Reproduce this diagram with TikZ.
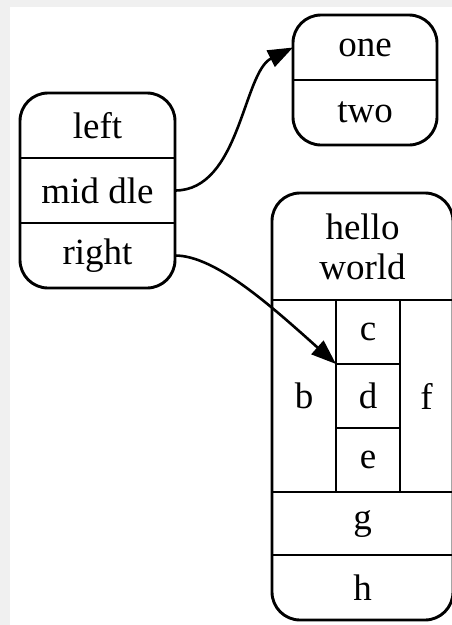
\documentclass[tikz,border=0pt]{standalone}
\usepackage{fontspec}
\setmainfont{Liberation Serif}
\usetikzlibrary{arrows.meta, fit}
\tikzset
{
field/.style={inner sep=0pt, outer sep=0pt, align=center, font=\fontsize{37}{40}\selectfont},
record/.style={draw, line width=2.9pt, rounded corners=28pt, inner sep=0pt, outer sep=0pt},
divider/.style={line width=2.9pt},
link/.style={line width=2.6pt, -{Triangle[length=25pt, width=18pt]}}
}
\begin{document}
\begin{tikzpicture}[x=1pt, y=-1pt]
		\useasboundingbox (0,0) rectangle (452,625);
		\fill[black!6] (0,0) rectangle (452,625);
		\fill[white] (10,7) rectangle (460,630);

		% record with three stacked fields
		\node[field, minimum width=155pt, minimum height=65pt] (left) at (97.5,125.5) {left};
		\node[field, minimum width=155pt, minimum height=65pt] (middle) at (97.5,190.5) {mid dle};
		\node[field, minimum width=155pt, minimum height=65pt] (right) at (97.5,255.5) {right};
		\node[record, fit=(left)(right)] (lrec) {};
		\draw[divider] (left.south west) -- (left.south east);
		\draw[divider] (middle.south west) -- (middle.south east);

		% record with two fields
		\node[field, minimum width=144pt, minimum height=65pt] (one) at (365,47.5) {one};
		\node[field, minimum width=144pt, minimum height=65pt] (two) at (365,112.5) {two};
		\node[record, fit=(one)(two)] (trec) {};
		\draw[divider] (one.south west) -- (one.south east);

		% nested record
		\node[field, minimum width=181pt, minimum height=107pt] (hello) at (362.5,246.5) {hello\\world};
		\node[field, minimum width=64pt, minimum height=192pt] (b) at (304,396) {b};
		\node[field, minimum width=64pt, minimum height=64pt] (c) at (368,332) {c};
		\node[field, minimum width=64pt, minimum height=64pt] (d) at (368,396) {d};
		\node[field, minimum width=64pt, minimum height=64pt] (e) at (368,460) {e};
		\node[field, minimum width=53pt, minimum height=192pt] (f) at (426.5,396) {f};
		\node[field, minimum width=181pt, minimum height=63pt] (g) at (362.5,523.5) {g};
		\node[field, minimum width=181pt, minimum height=65pt] (h) at (362.5,587.5) {h};
		\node[record, fit=(hello)(h)] (rrec) {};
		\draw[divider] (hello.south west) -- (hello.south east);
		\draw[divider] (b.north east) -- (b.south east);
		\draw[divider] (f.north west) -- (f.south west);
		\draw[divider] (c.south west) -- (c.south east);
		\draw[divider] (d.south west) -- (d.south east);
		\draw[divider] (g.north west) -- (g.north east);
		\draw[divider] (g.south west) -- (g.south east);

		\draw[link] (middle.east) .. controls +(65,0) and +(-50,25) .. (one.west);
		\draw[link] (right.east) .. controls +(40,0) and +(-66,-59) .. (d.north west);
	\end{tikzpicture}
\end{document}
